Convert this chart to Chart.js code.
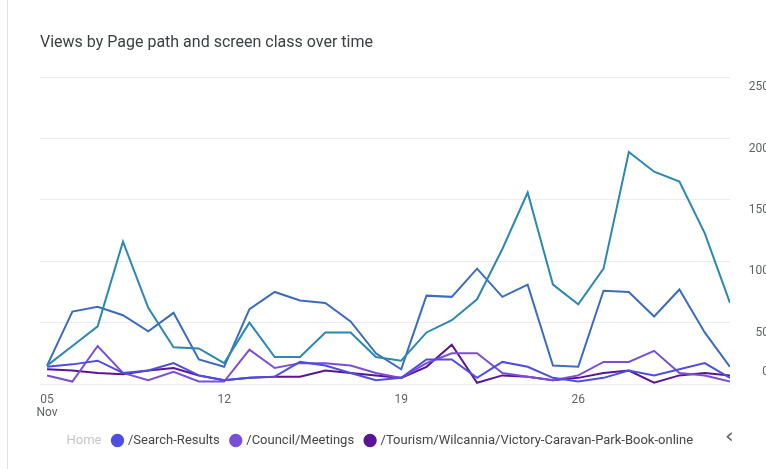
<!DOCTYPE html>
<html>
<head>
<meta charset="utf-8">
<title>Views by Page path and screen class over time</title>
<script src="https://cdn.jsdelivr.net/npm/chart.js@4"></script>
<style>
  html, body { margin: 0; padding: 0; background: #fff; overflow: hidden; }
  #wrap { position: relative; width: 769px; height: 469px; }
  #edge { position: absolute; left: 7px; top: 0; bottom: 0; border-left: 1px solid #e2e2e2; }
  #pager { position: absolute; left: 725px; top: 423px; font: 22px "DejaVu Sans", sans-serif; color: #5f6368; }
</style>
</head>
<body>
<div id="wrap">
  <div id="edge"></div>
  <canvas id="viewsChart" width="769" height="469"></canvas>
  <span id="pager">&lsaquo;</span>
</div>
<script>
// daily views, 05 Nov - 02 Dec
var days = ['05 Nov', '06 Nov', '07 Nov', '08 Nov', '09 Nov', '10 Nov', '11 Nov',
            '12 Nov', '13 Nov', '14 Nov', '15 Nov', '16 Nov', '17 Nov', '18 Nov',
            '19 Nov', '20 Nov', '21 Nov', '22 Nov', '23 Nov', '24 Nov', '25 Nov',
            '26 Nov', '27 Nov', '28 Nov', '29 Nov', '30 Nov', '01 Dec', '02 Dec'];

var seriesNames = ['/', 'Home', '/Search-Results', '/Council/Meetings',
                   '/Tourism/Wilcannia/Victory-Caravan-Park-Book-online'];
var seriesColors = ['#2a88b2', '#3a6cc0', '#4c4fe0', '#7a4fd8', '#5c1497'];

var rootViews = [15, 31, 47, 116, 62, 30, 29, 17, 50, 22, 22, 42, 42, 22,
                 19, 42, 52, 69, 110, 156, 81, 65, 94, 189, 173, 165, 123, 66];
var homeViews = [15, 59, 63, 56, 43, 58, 20, 14, 61, 75, 68, 66, 51, 25,
                 12, 72, 71, 94, 71, 81, 15, 14, 76, 75, 55, 77, 42, 14];
var searchViews = [14, 16, 19, 9, 11, 17, 7, 3, 5, 6, 18, 15, 9, 3,
                   5, 20, 20, 5, 18, 14, 5, 2, 5, 11, 7, 12, 17, 5];
var meetingsViews = [7, 2, 31, 9, 3, 10, 2, 2, 28, 13, 17, 17, 15, 9,
                     5, 17, 25, 25, 9, 6, 3, 7, 18, 18, 27, 9, 7, 2];
var caravanViews = [12, 11, 9, 8, 11, 13, 7, 3, 5, 6, 6, 11, 9, 7,
                    5, 14, 32, 1, 7, 6, 3, 5, 9, 11, 1, 7, 9, 7];

var xTickIndex = [0, 7, 14, 21];
var xTickLabels = [['05', 'Nov'], '12', '19', '26'];
var yTickValues = [0, 50, 100, 150, 200, 250];

var allSeries = [rootViews, homeViews, searchViews, meetingsViews, caravanViews];

function toPoints(values) {
  return values.map(function (v, i) { return { x: i, y: v }; });
}

Chart.defaults.font.family = 'Roboto, "Noto Sans", sans-serif';

var ctx = document.getElementById('viewsChart').getContext('2d');
new Chart(ctx, {
  type: 'line',
  data: {
    datasets: allSeries.map(function (values, k) {
      return {
        label: seriesNames[k],
        data: toPoints(values),
        borderColor: seriesColors[k],
        backgroundColor: seriesColors[k],
        borderWidth: 2,
        pointRadius: 0,
        pointStyle: 'circle',
        tension: 0
      };
    })
  },
  options: {
    responsive: false,
    animation: false,
    layout: { padding: { left: 40, right: 0, top: 0, bottom: 12 } },
    scales: {
      x: {
        type: 'linear',
        min: -0.28,
        max: days.length - 1,
        grid: { display: false },
        border: { display: false },
        afterFit: function (scale) { scale.height = 38; },
        ticks: {
          stepSize: 7,
          includeBounds: false,
          autoSkip: false,
          maxRotation: 0,
          padding: 2,
          color: '#5f6368',
          font: { size: 12, lineHeight: 1.05 },
          callback: function (value) {
            var i = xTickIndex.indexOf(value);
            return i < 0 ? '' : xTickLabels[i];
          }
        }
      },
      y: {
        position: 'right',
        min: 0,
        max: 250,
        grid: { color: '#ececec', drawTicks: false },
        border: { display: false },
        afterFit: function (scale) { scale.width = 39; },
        ticks: {
          stepSize: 50,
          autoSkip: false,
          crossAlign: 'far',
          labelOffset: 10,
          color: '#5f6368',
          font: { size: 12 },
          callback: function (value) {
            if (yTickValues.indexOf(value) < 0) return '';
            // keep the zero label clear of the date axis
            return value === 0 ? ['0', '', '', ''] : String(value);
          }
        }
      }
    },
    plugins: {
      title: {
        display: true,
        text: 'Views by Page path and screen class over time',
        align: 'start',
        color: '#3c4043',
        font: { size: 16, weight: 'normal' },
        padding: { top: 33, bottom: 25 }
      },
      legend: {
        position: 'bottom',
        align: 'start',
        labels: {
          usePointStyle: true,
          boxWidth: 8,
          boxHeight: 8,
          padding: 12,
          color: '#444746',
          font: { size: 13 },
          generateLabels: function (chart) {
            var items = Chart.defaults.plugins.legend.labels.generateLabels(chart);
            items = items.filter(function (it) { return it.datasetIndex > 0; });
            // legend is scrolled: the first visible entry fades out
            items[0].fillStyle = 'rgba(0,0,0,0)';
            items[0].strokeStyle = 'rgba(0,0,0,0)';
            items[0].fontColor = '#c4c7c5';
            return items;
          }
        }
      },
      tooltip: { enabled: false }
    }
  }
});
</script>
</body>
</html>
